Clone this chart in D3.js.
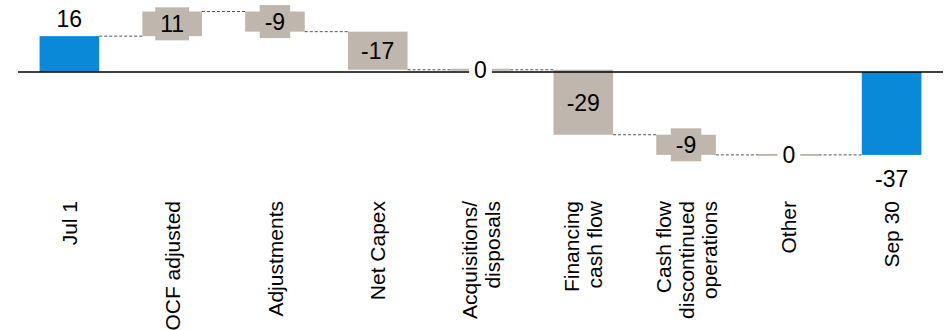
<!DOCTYPE html>
<html>
<head>
<meta charset="utf-8">
<script src="https://cdn.jsdelivr.net/npm/d3@7"></script>
<style>
  html, body { margin: 0; padding: 0; background: #fff; }
  text { font-family: "Liberation Sans", Arial, sans-serif; }
</style>
</head>
<body>
<div id="chart"></div>
<script>
const categories = ["Jul 1", "OCF adjusted", "Adjustments", "Net Capex", "Acquisitions/\ndisposals",
  "Financing\ncash flow", "Cash flow\ndiscontinued\noperations", "Other", "Sep 30"];
const values = [16, 11, -9, -17, 0, -29, -9, 0, -37];
const totals = [true, false, false, false, false, false, false, false, true];

const width = 947, height = 330;
const blue = "#0a89d8", grey = "#bfb7ad";

// running totals -> start/end per bar
let run = 0;
const bars = values.map((v, i) => {
  let start, end;
  if (totals[i]) { start = 0; end = v; } else { start = run; end = run + v; }
  run = end;
  return { name: categories[i], value: v, total: totals[i], start, end };
});

const x = d3.scaleBand()
  .domain(categories)
  .range([18, 943])
  .paddingInner(0.42)
  .paddingOuter(0.21);

const y = d3.scaleLinear().domain([-37, 27]).range([154.9, 11.5]);

const svg = d3.select("#chart").append("svg")
  .attr("width", width)
  .attr("height", height);

// bars
svg.append("g").selectAll("rect")
  .data(bars)
  .join("rect")
  .attr("x", d => x(d.name))
  .attr("width", x.bandwidth())
  .attr("y", d => d.value === 0 ? y(d.end) - 1 : y(Math.max(d.start, d.end)))
  .attr("height", d => d.value === 0 ? 2 : Math.abs(y(d.start) - y(d.end)))
  .attr("fill", d => d.total ? blue : grey);

// zero line
svg.append("line")
  .attr("x1", 18).attr("x2", 943)
  .attr("y1", y(0)).attr("y2", y(0))
  .attr("stroke", "#000")
  .attr("stroke-width", 1.6);

// connectors
svg.append("g").selectAll("line")
  .data(bars.slice(0, -1))
  .join("line")
  .attr("x1", d => x(d.name) + x.bandwidth())
  .attr("x2", (d, i) => x(bars[i + 1].name))
  .attr("y1", d => y(d.end))
  .attr("y2", d => y(d.end))
  .attr("stroke", "#555")
  .attr("stroke-width", 1)
  .attr("stroke-dasharray", "3,2");

// value labels
const labels = svg.append("g");
bars.forEach(d => {
  const cx = x(d.name) + x.bandwidth() / 2;
  const txt = String(d.value);
  if (d.total) {
    const ty = d.value >= 0 ? y(d.end) - 9 : y(d.end) + 32;
    labels.append("text")
      .attr("x", cx).attr("y", ty)
      .attr("text-anchor", "middle")
      .attr("font-size", 23)
      .attr("fill", "#000")
      .text(txt);
    return;
  }
  const cy = (y(d.start) + y(d.end)) / 2;
  const t = labels.append("text")
    .attr("x", cx).attr("y", cy)
    .attr("dy", "0.36em")
    .attr("text-anchor", "middle")
    .attr("font-size", 23)
    .attr("fill", "#000")
    .text(txt);
  const w = t.node().getComputedTextLength();
  labels.insert("rect", () => t.node())
    .attr("x", cx - w / 2 - 5)
    .attr("y", cy - 16.5)
    .attr("width", w + 10)
    .attr("height", 33)
    .attr("fill", d.value === 0 ? "#fff" : grey);
});

// category labels, rotated
const cat = svg.append("g").selectAll("g")
  .data(categories)
  .join("g")
  .attr("transform", d => `translate(${x(d) + x.bandwidth() / 2},201) rotate(-90)`);

cat.each(function(d) {
  const lines = d.split("\n");
  const t = d3.select(this).append("text")
    .attr("text-anchor", "end")
    .attr("font-size", 21)
    .attr("fill", "#000");
  lines.forEach((l, i) => {
    t.append("tspan")
      .attr("x", 0)
      .attr("y", (i - (lines.length - 1) / 2) * 23)
      .attr("dy", "0.36em")
      .text(l);
  });
});
</script>
</body>
</html>
